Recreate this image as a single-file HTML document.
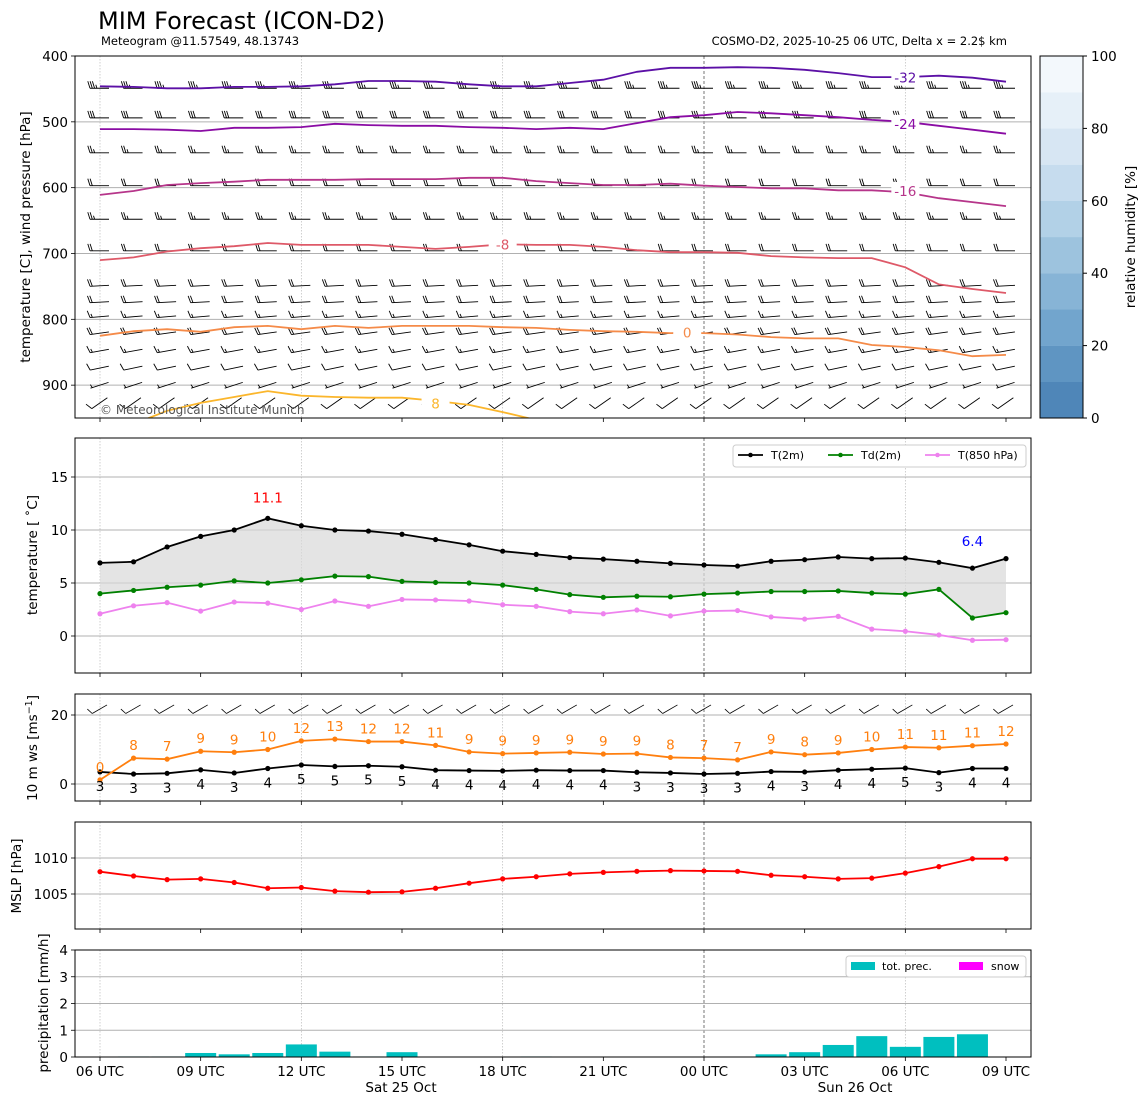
<!DOCTYPE html>
<html><head><meta charset="utf-8"><style>
html,body{margin:0;padding:0;background:#fff}
svg{display:block;font-family:"DejaVu Sans","Liberation Sans",sans-serif}
</style></head><body>
<svg id="c" width="1148" height="1105" viewBox="0 0 1148 1105" xmlns="http://www.w3.org/2000/svg">
<defs>
<clipPath id="clipTop"><rect x="75" y="56" width="956" height="362"/></clipPath>
</defs>
<text x="98" y="29" font-size="24">MIM Forecast (ICON-D2)</text>
<text x="101" y="45" font-size="11.5">Meteogram @11.57549, 48.13743</text>
<text x="1007" y="45" font-size="11.5" text-anchor="end">COSMO-D2, 2025-10-25 06 UTC, Delta x = 2.2$ km</text>
<g id="g"></g>
</svg>
<script>
const hours = ["06 UTC","09 UTC","12 UTC","15 UTC","18 UTC","21 UTC","00 UTC","03 UTC","06 UTC","09 UTC"];
const t2m = [6.9,7.0,8.4,9.4,10.0,11.1,10.4,10.0,9.9,9.6,9.1,8.6,8.0,7.7,7.4,7.25,7.05,6.85,6.7,6.6,7.05,7.2,7.45,7.3,7.35,6.95,6.4,7.3];
const td2m = [4.0,4.3,4.6,4.8,5.2,5.0,5.3,5.65,5.6,5.15,5.05,5.0,4.8,4.4,3.9,3.65,3.75,3.7,3.95,4.05,4.2,4.2,4.25,4.05,3.95,4.4,1.7,2.2];
const t850 = [2.1,2.85,3.15,2.35,3.2,3.1,2.5,3.3,2.8,3.45,3.4,3.3,2.95,2.8,2.3,2.1,2.45,1.9,2.35,2.4,1.8,1.6,1.85,0.65,0.45,0.1,-0.4,-0.35];
const ws10 = [3.5,2.9,3.1,4.1,3.2,4.5,5.5,5.1,5.3,5.0,4.0,3.9,3.8,4.0,3.9,3.9,3.4,3.2,2.9,3.1,3.6,3.5,4.0,4.3,4.6,3.3,4.5,4.5];
const wsLabels = [3,3,3,4,3,4,5,5,5,5,4,4,4,4,4,4,3,3,3,3,4,3,4,4,5,3,4,4];
const gust = [1.2,7.5,7.2,9.5,9.2,10.0,12.5,13.0,12.3,12.3,11.2,9.3,8.8,9.0,9.2,8.7,8.8,7.7,7.5,7.0,9.3,8.5,9.0,10.0,10.7,10.5,11.1,11.6];
const gustLabels = [0,8,7,9,9,10,12,13,12,12,11,9,9,9,9,9,9,8,7,7,9,8,9,10,11,11,11,12];
const mslp = [1008.1,1007.5,1007.0,1007.1,1006.6,1005.8,1005.9,1005.4,1005.25,1005.3,1005.8,1006.5,1007.1,1007.4,1007.8,1008.0,1008.15,1008.25,1008.2,1008.15,1007.6,1007.4,1007.1,1007.2,1007.9,1008.8,1009.9,1009.9];
const precip = [0,0.02,0.02,0.15,0.1,0.15,0.47,0.2,0.02,0.18,0,0,0,0.02,0,0,0,0,0,0,0.1,0.18,0.45,0.78,0.38,0.75,0.85,0];
const isoM32 = [446,447,449,449,447,447,446,443,438,438,439,443,446,446,441,436,424,418,418,417,418,421,426,432,432,430,433,439];
const isoM24 = [511,511,512,514,509,509,508,503,505,506,506,508,509,511,509,511,502,493,490,485,487,490,493,497,500,506,512,518];
const isoM16 = [611,605,596,593,591,588,588,588,587,587,587,585,585,590,593,596,596,594,597,599,601,601,604,604,607,616,622,628];
const isoM8 = [710,706,697,692,689,684,687,687,687,690,693,690,686,687,687,690,695,698,698,699,704,706,707,707,721,747,754,760];
const iso0 = [825,818,815,819,812,810,815,810,813,810,810,810,812,813,816,818,819,821,821,823,827,829,829,839,842,847,856,854];
const iso8 = [975,959,939,927,918,909,916,918,919,919,924,930,941,953,965,975,980,985,990,990,990,990,990,990,990,990,990,990];
const barbLevels = [400,449,494,547,597,648,696,749,774,796,821,848,874,900,927];
const barbSpeed = [3,3.5,3,2.5,2,2.5,2,2,2,1.5,2,1.5,1,0.5,1];
const barbAngle = [0,0,0,0,0,0,0,3,3,5,8,10,12,18,35];
const humTicks = [0,20,40,60,80,100];

const NS="http://www.w3.org/2000/svg";
const G=document.getElementById('g');
function el(tag,attrs,parent){const e=document.createElementNS(NS,tag);for(const k in attrs)e.setAttribute(k,attrs[k]);(parent||G).appendChild(e);return e;}
function txt(x,y,s,attrs,parent){const e=el('text',Object.assign({x:x,y:y},attrs||{}),parent);e.textContent=s;return e;}
const xOf=i=>100+i*(906/27);
const yP=p=>56+(p-400)*0.6583;
const yT=v=>636-v*10.6;
const yW=v=>784-v*3.45;
const yM=v=>858-(v-1010)*7.2;
const yR=v=>1057-v*26.75;
const panels=[[56,418],[438,673],[694,801],[822,929],[950,1057]];

panels.forEach((p,pi)=>{
  for(let h=0;h<=24;h+=6){
    const x=xOf(h);
    const ln=el('line',{x1:x,x2:x,y1:p[0],y2:p[1],stroke:h==18?'#555':'#bbb','stroke-width':h==18?0.8:0.7,'stroke-dasharray':h==18?'3,2':'1.5,1.5'});
    
    
  }
  for(let h=0;h<=27;h+=3){
    const x=xOf(h);
    el('line',{x1:x,x2:x,y1:p[1],y2:p[1]+4,stroke:'#000','stroke-width':0.8});
  }
});
function hgrid(y){el('line',{x1:75,x2:1031,y1:y,y2:y,stroke:'#b0b0b0','stroke-width':1});}
function ytick(y,label){el('line',{x1:71,x2:75,y1:y,y2:y,stroke:'#000','stroke-width':0.8});const t=txt(68,y+5,label,{'font-size':13.5,'text-anchor':'end'});}

// ---- Panel 1
[400,500,600,700,800,900].forEach(p=>{if(p>400)hgrid(yP(p));ytick(yP(p),String(p));});
const topG=el('g',{'clip-path':'url(#clipTop)'});


function barb(cx,cy,spd,ang,parent,scale){
  scale=scale||1;
  const g=el('g',{transform:`translate(${cx},${cy}) rotate(${-ang}) scale(${scale})`,stroke:'#000','stroke-width':0.9,fill:'none'},parent);
  el('line',{x1:-10,y1:0,x2:9,y2:0},g);
  let n=Math.floor(spd),half=spd-n>=0.5,pos=-10;
  for(let k=0;k<n;k++){el('line',{x1:pos,y1:0,x2:pos-2.2,y2:-7},g);pos+=2.3;}
  if(half){if(n==0)pos+=2;el('line',{x1:pos,y1:0,x2:pos-1.1,y2:-3.5},g);}
  return g;
}
barbLevels.forEach((lv,r)=>{
  for(let i=0;i<28;i++){
    const b=barb(xOf(i),yP(lv),barbSpeed[r],barbAngle[r],topG);
    
    
  }
});
const isos=[[isoM32,'#5c10a6','-32',24,433],[isoM24,'#8a0ca4','-24',24,503],[isoM16,'#b6358a','-16',24,605],[isoM8,'#de5968','-8',12,686],[iso0,'#f58b49','0',17.5,820],[iso8,'#fbb62c','8',10,928]];
isos.forEach(([arr,col,lab,li,lp])=>{
  const pts=arr.map((p,i)=>xOf(i).toFixed(1)+','+yP(p).toFixed(1)).join(' ');
  const pl=el('polyline',{points:pts,fill:'none',stroke:col,'stroke-width':1.8},topG);
  
  
  const lx=xOf(li);
  el('rect',{x:lx-14,y:yP(lp)-9,width:28,height:17,fill:'#fff'},topG);
  const t=txt(lx,yP(lp)+5,lab,{'font-size':13.5,fill:col,'text-anchor':'middle'},topG);
  
  
});
const cp=txt(100,414,'© Meteorological Institute Munich',{'font-size':12,fill:'#555'},topG);


el('rect',{x:75,y:56,width:956,height:362,fill:'none',stroke:'#000','stroke-width':1});
const yl1=txt(0,0,'temperature [C], wind pressure [hPa]',{'font-size':13.5,'text-anchor':'middle',transform:'translate(30,237) rotate(-90)'});


const blues=['#4f86b8','#5f95c2','#72a5cd','#87b4d6','#9dc3de','#b2d1e7','#c6dcee','#d7e6f3','#e6f0f8','#f3f8fc'];
blues.forEach((c,k)=>{const r=el('rect',{x:1040,y:418-(k+1)*36.2,width:43,height:36.4,fill:c});});
el('rect',{x:1040,y:56,width:43,height:362,fill:'none',stroke:'#000','stroke-width':1});
humTicks.forEach(v=>{const y=418-v*3.62;el('line',{x1:1083,x2:1087,y1:y,y2:y,stroke:'#000'});txt(1091,y+5,String(v),{'font-size':13.5});});
txt(0,0,'relative humidity [%]',{'font-size':13.5,'text-anchor':'middle',transform:'translate(1135,237) rotate(-90)'});

// ---- Panel 2
[15,10,5,0].forEach(v=>{hgrid(yT(v));ytick(yT(v),String(v));});
let fillPts=t2m.map((v,i)=>xOf(i)+','+yT(v)).concat(td2m.map((v,i)=>xOf(i)+','+yT(v)).reverse()).join(' ');
el('polygon',{points:fillPts,fill:'#d8d8d8','fill-opacity':0.7,stroke:'none'});
function series(arr,yf,col,name){
  const pl=el('polyline',{points:arr.map((v,i)=>xOf(i)+','+yf(v)).join(' '),fill:'none',stroke:col,'stroke-width':1.8});
  
  arr.forEach((v,i)=>{const c=el('circle',{cx:xOf(i),cy:yf(v),r:2.6,fill:col});});
}
series(t850,yT,'#ee82ee','t850');
series(td2m,yT,'#008000','td2m');
series(t2m,yT,'#000','t2m');
let imax=t2m.indexOf(Math.max(...t2m)),imin=t2m.indexOf(Math.min(...t2m));
txt(xOf(imax),yT(t2m[imax])-16,t2m[imax].toFixed(1),{'font-size':13.5,fill:'red','text-anchor':'middle'});
txt(xOf(imin),yT(t2m[imin])-22,t2m[imin].toFixed(1),{'font-size':13.5,fill:'blue','text-anchor':'middle'});
el('rect',{x:75,y:438,width:956,height:235,fill:'none',stroke:'#000','stroke-width':1});
txt(0,0,'temperature [ ˚C]',{'font-size':13.5,'text-anchor':'middle',transform:'translate(37,555) rotate(-90)'});
const lg=el('g',{});
el('rect',{x:733,y:445,width:293,height:22,rx:3,fill:'#fff',stroke:'#ccc'},lg);
[['T(2m)','#000',738],['Td(2m)','#008000',828],['T(850 hPa)','#ee82ee',925]].forEach(([l,c,x])=>{
  el('line',{x1:x,x2:x+25,y1:455,y2:455,stroke:c,'stroke-width':1.8},lg);
  el('circle',{cx:x+12.5,cy:455,r:2.3,fill:c},lg);
  txt(x+33,459,l,{'font-size':11},lg);
});

// ---- Panel 3
[20,0].forEach(v=>{hgrid(yW(v));ytick(yW(v),String(v));});
for(let i=0;i<28;i++){const b=barb(xOf(i),709,1,30,G,0.9);}
series(ws10,yW,'#000','wind-speed');
series(gust,yW,'#ff7f0e','wind-gust');
gust.forEach((v,i)=>{txt(xOf(i),(i==0?yW(3.5):yW(v)-8),String(gustLabels[i]),{'font-size':13.5,fill:'#ff7f0e','text-anchor':'middle'});});
ws10.forEach((v,i)=>{txt(xOf(i),yW(v)+19,String(wsLabels[i]),{'font-size':13.5,fill:'#000','text-anchor':'middle'});});
el('rect',{x:75,y:694,width:956,height:107,fill:'none',stroke:'#000','stroke-width':1});
const wl=txt(0,0,'10 m ws [ms',{'font-size':13.5,'text-anchor':'middle',transform:'translate(37,748) rotate(-90)'});
const ts=el('tspan',{'font-size':9.5,dy:-5},wl);ts.textContent='−1';const ts2=el('tspan',{dy:5},wl);ts2.textContent=']';


// ---- Panel 4
[1010,1005].forEach(v=>{hgrid(yM(v));ytick(yM(v),String(v));});
series(mslp,yM,'#ff0000','mslp');
el('rect',{x:75,y:822,width:956,height:107,fill:'none',stroke:'#000','stroke-width':1});
txt(0,0,'MSLP [hPa]',{'font-size':13.5,'text-anchor':'middle',transform:'translate(21,876) rotate(-90)'});

// ---- Panel 5
[4,3,2,1,0].forEach(v=>{if(v>0)hgrid(yR(v));ytick(yR(v),String(v));});
precip.forEach((v,i)=>{if(v>0){const r=el('rect',{x:xOf(i)-15.5,y:yR(v),width:31,height:v*26.75,fill:'#00bfbf'});}});
el('rect',{x:75,y:950,width:956,height:107,fill:'none',stroke:'#000','stroke-width':1});
txt(0,0,'precipitation [mm/h]',{'font-size':13.5,'text-anchor':'middle',transform:'translate(48,1003) rotate(-90)'});
const pg=el('g',{});
el('rect',{x:846,y:956,width:180,height:21,rx:3,fill:'#fff',stroke:'#ccc'},pg);
el('rect',{x:851,y:962,width:24,height:8,fill:'#00bfbf'},pg);
txt(882,970,'tot. prec.',{'font-size':11},pg);
el('rect',{x:959,y:962,width:24,height:8,fill:'#ff00ff'},pg);
txt(991,970,'snow',{'font-size':11},pg);

hours.forEach((h,k)=>{const t=txt(xOf(k*3),1076,h,{'font-size':13.5,'text-anchor':'middle'});});
txt(401,1092,'Sat 25 Oct',{'font-size':13.5,'text-anchor':'middle'});
txt(855,1092,'Sun 26 Oct',{'font-size':13.5,'text-anchor':'middle'});
</script>
</body></html>
